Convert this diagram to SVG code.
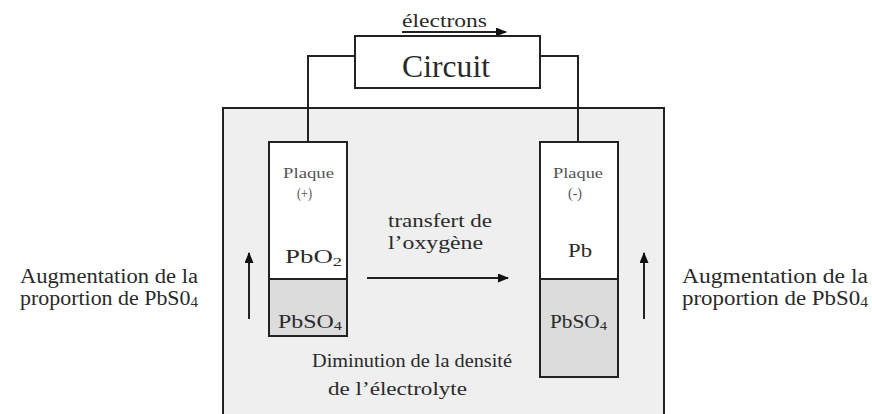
<svg xmlns="http://www.w3.org/2000/svg" width="872" height="414" viewBox="0 0 872 414">
<style>
text{font-family:"Liberation Serif","Times New Roman",serif;fill:#2a2a2a;}
.ln{stroke:#222;stroke-width:2;fill:none;}
.box{stroke:#222;stroke-width:2;}
.t19{font-size:19px;}
.t20{font-size:20.5px;}
.t14{font-size:14px;fill:#555;}
</style>
<defs>
<marker id="ah" markerWidth="11" markerHeight="9" refX="10" refY="4.5" orient="auto" markerUnits="userSpaceOnUse">
<path d="M0,0 L11,4.5 L0,9 Z" fill="#111"/>
</marker>
</defs>
<rect width="872" height="414" fill="#fff"/>
<g id="cell">
<rect class="box" x="223" y="108" width="441" height="320" fill="#efefef"/>
</g>
<g id="connectors">
<polyline class="ln" points="308,142 308,56 355,56"/>
<polyline class="ln" points="540,56 578,56 578,142"/>
<line class="ln" x1="402" y1="32" x2="506" y2="32" marker-end="url(#ah)"/>
<line class="ln" x1="367" y1="278" x2="508" y2="278" marker-end="url(#ah)"/>
<line class="ln" x1="249" y1="319" x2="249" y2="253" marker-end="url(#ah)"/>
<line class="ln" x1="644" y1="319" x2="644" y2="253" marker-end="url(#ah)"/>
</g>
<g id="circuit">
<rect class="box" x="355" y="36" width="185" height="52" fill="#fff"/>
<text x="402" y="77" font-size="31" textLength="88" lengthAdjust="spacingAndGlyphs">Circuit</text>
</g>
<g id="electrons">
<text x="402" y="27" font-size="18" textLength="85" lengthAdjust="spacingAndGlyphs">électrons</text>
</g>
<g id="plaque-plus">
<rect class="box" x="269" y="142" width="78" height="137" fill="#fff"/>
<rect class="box" x="269" y="279" width="78" height="57" fill="#dcdcdc"/>
<text class="t14" x="283" y="178" textLength="51" lengthAdjust="spacingAndGlyphs">Plaque</text>
<text class="t14" x="297" y="198" textLength="15" lengthAdjust="spacingAndGlyphs">(+)</text>
<text class="t19" x="285" y="263" textLength="57" lengthAdjust="spacingAndGlyphs">PbO<tspan font-size="13" dy="3">2</tspan></text>
<text class="t19" x="278" y="328" textLength="64" lengthAdjust="spacingAndGlyphs">PbSO<tspan font-size="13" dy="2">4</tspan></text>
</g>
<g id="plaque-minus">
<rect class="box" x="540" y="142" width="78" height="137" fill="#fff"/>
<rect class="box" x="540" y="279" width="78" height="98" fill="#dcdcdc"/>
<text class="t14" x="553" y="178" textLength="50" lengthAdjust="spacingAndGlyphs">Plaque</text>
<text class="t14" x="568" y="198" textLength="14" lengthAdjust="spacingAndGlyphs">(-)</text>
<text class="t19" x="568" y="257" textLength="24" lengthAdjust="spacingAndGlyphs">Pb</text>
<text class="t19" x="550" y="328" textLength="57" lengthAdjust="spacingAndGlyphs">PbSO<tspan font-size="13" dy="2">4</tspan></text>
</g>
<g id="transfert">
<text class="t19" x="388" y="227" textLength="104" lengthAdjust="spacingAndGlyphs">transfert de</text>
<text class="t19" x="388" y="249" textLength="95" lengthAdjust="spacingAndGlyphs">l’oxygène</text>
</g>
<g id="diminution">
<text class="t19" x="312" y="367" textLength="200" lengthAdjust="spacingAndGlyphs">Diminution de la densité</text>
<text class="t19" x="328" y="395" textLength="139" lengthAdjust="spacingAndGlyphs">de l’électrolyte</text>
</g>
<g id="aug-left">
<text class="t20" x="20" y="283" textLength="178" lengthAdjust="spacingAndGlyphs">Augmentation de la</text>
<text class="t20" x="20" y="305" textLength="178" lengthAdjust="spacingAndGlyphs">proportion de PbS0<tspan font-size="14" dy="2">4</tspan></text>
</g>
<g id="aug-right">
<text class="t20" x="682" y="283" textLength="186" lengthAdjust="spacingAndGlyphs">Augmentation de la</text>
<text class="t20" x="682" y="305" textLength="186" lengthAdjust="spacingAndGlyphs">proportion de PbS0<tspan font-size="14" dy="2">4</tspan></text>
</g>
</svg>
